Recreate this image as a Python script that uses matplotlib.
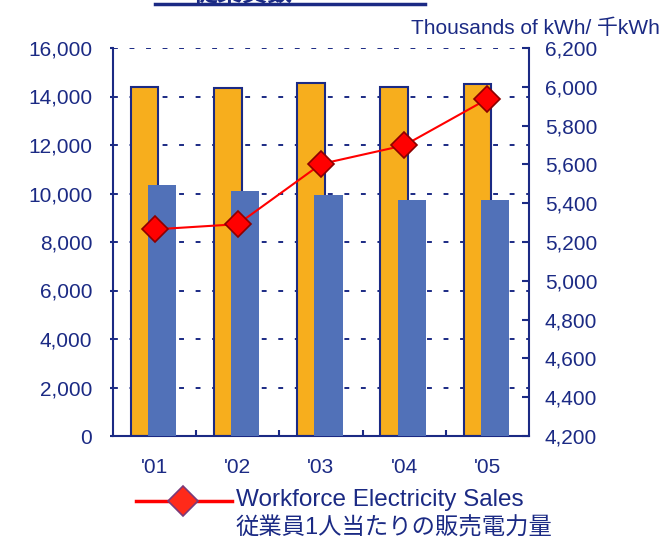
import matplotlib
matplotlib.use("Agg")
import matplotlib.pyplot as plt
from matplotlib.lines import Line2D

plt.rcParams["font.family"] = ["Liberation Sans", "Noto Sans CJK JP", "DejaVu Sans"]

years = ["'01", "'02", "'03", "'04", "'05"]
orange_vals = [14400, 14330, 14570, 14400, 14500]
blue_vals = [10340, 10100, 9950, 9730, 9730]
sales_per_worker = [5265, 5292, 5602, 5698, 5937]

left_ticks = list(range(0, 16001, 2000))
right_ticks = list(range(4200, 6201, 200))

navy = "#1B2A84"
orange = "#F7AE1D"
blue = "#5171B8"
red = "#FF0000"

fig = plt.figure(figsize=(6.63, 5.39), dpi=100)
ax = fig.add_axes([113 / 663, 1 - 436 / 539, 416 / 663, 388 / 539])

x = list(range(len(years)))
ax.bar([i - 0.12 for i in x], orange_vals, width=0.33, color=orange,
       edgecolor=navy, linewidth=1.5, zorder=2)
ax.bar([i + 0.09 for i in x], blue_vals, width=0.34, color=blue,
       edgecolor="none", zorder=3)

ax.set_xlim(-0.5, 4.5)
ax.set_ylim(0, 16000)
ax.set_yticks(left_ticks)
ax.set_yticklabels([f"{v:,}" for v in left_ticks])
for v in left_ticks[1:]:
    ax.axhline(v, color=navy, linestyle=(0, (2.5, 6)), linewidth=1.4, zorder=1)

ax.set_xticks(x)
ax.set_xticklabels(years)
ax.set_xticks([i + 0.5 for i in x[:-1]], minor=True)
ax.tick_params(axis="x", which="major", length=0, pad=16, labelsize=15, colors=navy)
ax.tick_params(axis="x", which="minor", direction="in", length=4.5, width=1.5, color=navy)
ax.tick_params(axis="y", direction="out", length=2.5, width=1.5, color=navy,
               labelsize=15, labelcolor=navy, pad=12.5)

for side in ["left", "right", "bottom"]:
    ax.spines[side].set_color(navy)
    ax.spines[side].set_linewidth(1.5)
ax.spines["top"].set_visible(False)

ax2 = ax.twinx()
ax2.plot(x, sales_per_worker, color=red, linewidth=1.5, marker="D",
         markersize=13, markerfacecolor=red, markeredgecolor="#8B0000",
         markeredgewidth=1.2, zorder=5)
ax2.set_ylim(4200, 6200)
ax2.set_yticks(right_ticks)
ax2.set_yticklabels([f"{v:,}" for v in right_ticks])
ax2.tick_params(axis="y", direction="in", length=5, width=1.5, color=navy,
                labelsize=15, labelcolor=navy, pad=11.5)
for side in ["left", "right", "bottom", "top"]:
    ax2.spines[side].set_visible(False)

fig.text(660 / 663, 1 - 28 / 539, "Thousands of kWh/ 千kWh", ha="right", va="center",
         fontsize=15, color=navy)

# title sits mostly above the top edge, as in the source
fig.text(243 / 663, 1 - 2 / 539, "従業員数", ha="center", va="baseline",
         fontsize=18, color=navy, fontweight="bold")
fig.add_artist(Line2D([155 / 663, 425 / 663], [1 - 4 / 539, 1 - 4 / 539],
                      color=navy, linewidth=2.5))

# legend
fig.add_artist(Line2D([136 / 663, 232 / 663], [1 - 501 / 539, 1 - 501 / 539],
                      color=red, linewidth=2.5))
fig.add_artist(Line2D([183 / 663], [1 - 501 / 539], marker="D", markersize=15,
                      markerfacecolor="#FF2A1A", markeredgecolor="#7A3A7A",
                      markeredgewidth=1.2, linestyle="none"))
fig.text(236 / 663, 1 - 500 / 539, "Workforce Electricity Sales", ha="left",
         va="center", fontsize=17.5, color=navy)
fig.text(236 / 663, 1 - 528 / 539, "従業員1人当たりの販売電力量", ha="left",
         va="center", fontsize=16.8, color=navy)

fig.savefig("out.png", dpi=100)
